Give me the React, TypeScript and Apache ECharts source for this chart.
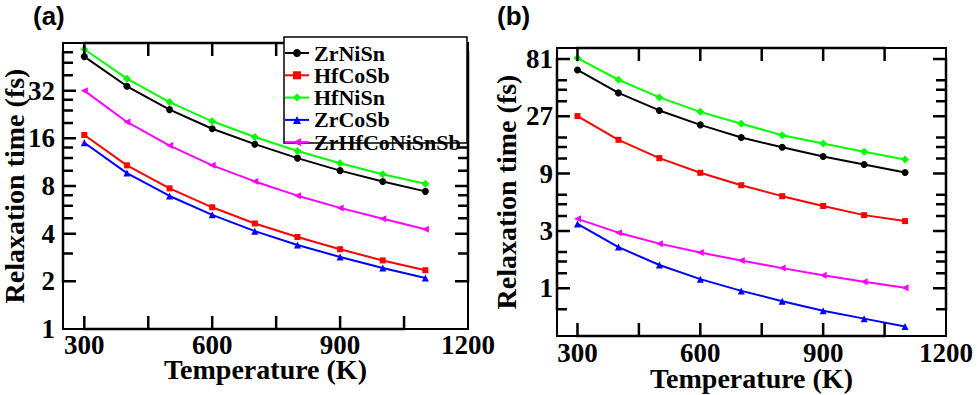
import React, { useEffect, useRef } from "react";
import * as echarts from "echarts";

const temperatures = [300, 400, 500, 600, 700, 800, 900, 1000, 1100];
const seriesNames = ["ZrNiSn", "HfCoSb", "HfNiSn", "ZrCoSb", "ZrHfCoNiSnSb"];

// panel (a)
const aZrNiSn = [52.5, 34.1, 24.3, 18.4, 14.7, 12.0, 10.0, 8.55, 7.4];
const aHfCoSb = [16.8, 10.8, 7.73, 5.87, 4.64, 3.81, 3.19, 2.71, 2.35];
const aHfNiSn = [58.4, 38.1, 27.1, 20.5, 16.3, 13.3, 11.15, 9.5, 8.27];
const aZrCoSb = [15.0, 9.65, 6.92, 5.26, 4.15, 3.39, 2.85, 2.43, 2.1];
const aZrHfCoNiSnSb = [32.0, 20.3, 14.4, 10.8, 8.55, 6.95, 5.82, 4.97, 4.27];

// panel (b)
const bZrNiSn = [65.6, 42.3, 30.2, 22.9, 18.0, 14.9, 12.5, 10.7, 9.2];
const bHfCoSb = [27.1, 17.2, 12.1, 9.14, 7.2, 5.84, 4.84, 4.06, 3.62];
const bHfNiSn = [82.5, 54.4, 38.8, 29.4, 23.4, 18.8, 16.0, 13.7, 11.8];
const bZrCoSb = [3.43, 2.2, 1.56, 1.19, 0.95, 0.78, 0.65, 0.558, 0.48];
const bZrHfCoNiSnSb = [3.78, 2.9, 2.35, 1.98, 1.7, 1.47, 1.28, 1.13, 1.01];

const xMin = 250;
const xMax = 1200;
const xLabels = [300, 600, 900, 1200];
const xTicks = [300, 450, 600, 750, 900, 1050];
const aYMin = 1;
const aYMax = 64;
const aYLabels = [1, 2, 4, 8, 16, 32];
const aYTicks = [2, 3, 4, 5, 6, 7, 8, 10, 12, 14, 16, 20, 24, 28, 32, 40, 48, 56];
const aYMajor = [2, 4, 8, 16, 32];
const bYMin = 0.4;
const bYMax = 100;
const bYLabels = [1, 3, 9, 27, 81];
const bYTicks = [0.6667, 1, 1.3333, 1.6667, 2, 3, 4, 5, 6, 9, 12, 15, 18, 27, 36, 45, 54, 81];
const bYMajor = [1, 3, 9, 27, 81];

const colors = ["#000000", "#ff0000", "#00ff00", "#0000ff", "#ff00ff"];
const symbols = ["circle", "rect", "diamond", "triangle", "triangle"];
const symbolRotates = [0, 0, 0, 0, 90];
const symbolSizes = [7, 6, 8, 7, 7];

const FONT = "Liberation Serif";
const MAJOR_LEN = 13;
const MINOR_LEN = 10;

const axisLineStyle = { color: "#000", width: 2 };

function makeXAxis(gridIndex: number, labelMargin: number, nameGap: number) {
  return {
    type: "value",
    min: xMin,
    max: xMax,
    gridIndex,
    position: "bottom",
    splitLine: { show: false },
    axisLine: { show: true, onZero: false, lineStyle: axisLineStyle },
    axisTick: { show: false },
    name: "Temperature (K)",
    nameLocation: "middle",
    nameGap,
    nameMoveOverlap: false,
    nameTextStyle: { fontFamily: FONT, fontWeight: "bold", fontSize: 28, color: "#000" },
    axisLabel: {
      show: true,
      customValues: xLabels,
      formatter: (v: number) => String(v),
      margin: labelMargin,
      fontFamily: FONT,
      fontWeight: "bold",
      fontSize: 27,
      color: "#000",
    },
  };
}

function makeYAxis(
  gridIndex: number,
  min: number,
  max: number,
  base: number,
  labels: number[],
  labelMargin: number,
  nameGap: number
) {
  return {
    type: "log",
    logBase: base,
    min,
    max,
    gridIndex,
    position: "left",
    splitLine: { show: false },
    axisLine: { show: true, onZero: false, lineStyle: axisLineStyle },
    axisTick: { show: false },
    name: "Relaxation time (fs)",
    nameLocation: "middle",
    nameGap,
    nameMoveOverlap: false,
    nameTextStyle: { fontFamily: FONT, fontWeight: "bold", fontSize: 28, color: "#000" },
    axisLabel: {
      show: true,
      customValues: labels,
      formatter: (v: number) => String(Math.round(v)),
      margin: labelMargin,
      fontFamily: FONT,
      fontWeight: "bold",
      fontSize: 27,
      color: "#000",
    },
  };
}

function makeSeries(values: number[][], xAxisIndex: number, yAxisIndex: number) {
  return values.map((vals, k) => ({
    type: "line",
    name: seriesNames[k],
    xAxisIndex,
    yAxisIndex,
    data: temperatures.map((t, i) => [t, vals[i]]),
    symbol: symbols[k],
    symbolSize: symbolSizes[k],
    symbolRotate: symbolRotates[k],
    showAllSymbol: true,
    itemStyle: { color: colors[k] },
    lineStyle: { color: colors[k], width: 2 },
    z: 3,
  }));
}

const panelLabel = (text: string, x: number) => ({
  type: "text",
  z: 10,
  x,
  y: 16,
  style: {
    text,
    fontFamily: "Liberation Sans",
    fontWeight: "bold",
    fontSize: 26,
    fill: "#000",
    verticalAlign: "middle",
    align: "left",
  },
});

export default function App() {
  const ref = useRef<HTMLDivElement>(null);

  useEffect(() => {
    if (!ref.current) return;
    const chart = echarts.init(ref.current, undefined, { renderer: "svg" });
    const option: any = {
      animation: false,
      backgroundColor: "#ffffff",
      grid: [
        {
          left: 63,
          top: 43,
          width: 405,
          height: 286,
          show: true,
          borderColor: "#000",
          borderWidth: 2,
          backgroundColor: "transparent",
          outerBoundsMode: "none",
        },
        {
          left: 557,
          top: 48,
          width: 389,
          height: 288,
          show: true,
          borderColor: "#000",
          borderWidth: 2,
          backgroundColor: "transparent",
          outerBoundsMode: "none",
        },
      ],
      xAxis: [makeXAxis(0, 2, 26), makeXAxis(1, 3, 28)],
      yAxis: [
        makeYAxis(0, aYMin, aYMax, 2, aYLabels, 8, 35),
        makeYAxis(1, bYMin, bYMax, 3, bYLabels, 4, 37),
      ],
      legend: {
        data: seriesNames,
        orient: "vertical",
        left: 284,
        top: 42,
        itemGap: 0.3,
        itemWidth: 24,
        itemHeight: 10,
        padding: 0,
        z: 30,
        textStyle: {
          fontFamily: FONT,
          fontWeight: "bold",
          fontSize: 22,
          lineHeight: 20,
          color: "#000",
        },
      },
      series: [
        ...makeSeries([aZrNiSn, aHfCoSb, aHfNiSn, aZrCoSb, aZrHfCoNiSnSb], 0, 0),
        ...makeSeries([bZrNiSn, bHfCoSb, bHfNiSn, bZrCoSb, bZrHfCoNiSnSb], 1, 1),
      ],
    };
    chart.setOption(option);

    // each side's tick marks as one comb-shaped polyline, placed through the axes' scales
    const combs: any[] = [];
    const px = (gi: number, v: number[]) => chart.convertToPixel({ gridIndex: gi } as any, v) as any;
    const comb = (
      gi: number,
      values: number[],
      major: number[] | null,
      toPoint: (v: number) => number[],
      dir: number[]
    ) => {
      const pts: number[][] = [];
      values.forEach((v) => {
        const p = px(gi, toPoint(v));
        if (!p || isNaN(p[0]) || isNaN(p[1])) return;
        const len = major && major.indexOf(v) < 0 ? MINOR_LEN : MAJOR_LEN;
        pts.push([p[0], p[1]]);
        pts.push([p[0] + dir[0] * len, p[1] + dir[1] * len]);
        pts.push([p[0], p[1]]);
      });
      if (pts.length) {
        combs.push({
          type: "polyline",
          z: 15,
          silent: true,
          shape: { points: pts },
          style: { stroke: "#000000", lineWidth: 2.5, fill: null },
        });
      }
    };
    const addPanel = (gi: number, yMin: number, yMax: number, yTicks: number[], yMajor: number[]) => {
      comb(gi, xTicks, null, (v) => [v, yMin], [0, -1]);
      comb(gi, xTicks, null, (v) => [v, yMax], [0, 1]);
      comb(gi, yTicks, yMajor, (v) => [xMin, v], [1, 0]);
      comb(gi, yTicks, yMajor, (v) => [xMax, v], [-1, 0]);
    };
    addPanel(0, aYMin, aYMax, aYTicks, aYMajor);
    addPanel(1, bYMin, bYMax, bYTicks, bYMajor);

    chart.setOption({
      graphic: [
        {
          type: "rect",
          z: 20,
          shape: { x: 284, y: 37, width: 183, height: 106 },
          style: { fill: "#ffffff", stroke: "#000000", lineWidth: 1.5 },
        },
        panelLabel("(a)", 33),
        panelLabel("(b)", 497),
        ...combs,
      ],
    });

    return () => {
      chart.dispose();
    };
  }, []);

  return (
    <div
      ref={ref}
      style={{ position: "fixed", left: 0, top: 0, width: 977, height: 395, background: "#fff" }}
    />
  );
}
